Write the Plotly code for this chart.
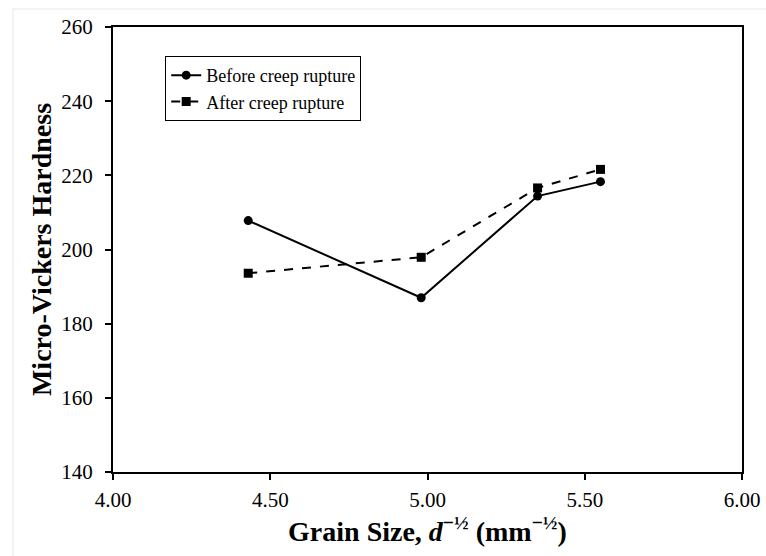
import plotly.graph_objects as go

x_vals = [4.43, 4.98, 5.35, 5.55]
before_vals = [207.8, 187.0, 214.4, 218.3]
after_vals = [193.6, 197.9, 216.6, 221.6]
x_ticks = [4.0, 4.5, 5.0, 5.5, 6.0]
x_tick_labels = ["4.00", "4.50", "5.00", "5.50", "6.00"]
y_ticks = [140, 160, 180, 200, 220, 240, 260]

FONT = "Liberation Serif, Times New Roman, serif"

fig = go.Figure()
fig.add_trace(go.Scatter(
    x=x_vals, y=before_vals, mode="lines+markers", name="Before creep rupture",
    line=dict(color="black", width=2, dash="solid"),
    marker=dict(symbol="circle", size=9, color="black"),
))
fig.add_trace(go.Scatter(
    x=x_vals, y=after_vals, mode="lines+markers", name="After creep rupture",
    line=dict(color="black", width=2, dash="dash"),
    marker=dict(symbol="square", size=9, color="black"),
))

fig.update_layout(
    width=766, height=556,
    margin=dict(l=113, r=24, t=27, b=84),
    paper_bgcolor="white", plot_bgcolor="white",
    font=dict(family=FONT, color="black", size=21),
    showlegend=True,
    legend=dict(
        x=0.083, y=0.935, xanchor="left", yanchor="top",
        bordercolor="black", borderwidth=1, bgcolor="white",
        font=dict(family=FONT, size=18, color="black"),
        tracegroupgap=4,
    ),
    xaxis=dict(
        range=[4.0, 6.0], tickvals=x_ticks, ticktext=x_tick_labels,
        showline=True, linecolor="black", linewidth=2, mirror=True,
        ticks="outside", ticklen=6, tickwidth=2, tickcolor="black",
        showgrid=False, zeroline=False, automargin=False,
        ticklabelstandoff=2,
        tickfont=dict(family=FONT, size=21, color="black"),
        title=dict(text="<b>Grain Size, <i>d</i><sup>−½</sup> (mm<sup>−½</sup>)</b>",
                   font=dict(family=FONT, size=28, color="black"), standoff=0),
    ),
    yaxis=dict(
        range=[140, 260], tickvals=y_ticks,
        showline=True, linecolor="black", linewidth=2, mirror=True,
        ticks="outside", ticklen=6, tickwidth=2, tickcolor="black",
        showgrid=False, zeroline=False, automargin=False,
        ticklabelstandoff=8,
        tickfont=dict(family=FONT, size=21, color="black"),
        title=dict(text="<b>Micro-Vickers Hardness</b>",
                   font=dict(family=FONT, size=28, color="black"), standoff=1),
    ),
)

# faint image frame (top and left edges)
fig.add_shape(type="line", xref="paper", yref="paper",
              x0=-0.159, x1=1.1, y0=1.0404, y1=1.0404,
              line=dict(color="#e6e6e6", width=1), layer="below")
fig.add_shape(type="line", xref="paper", yref="paper",
              x0=-0.159, x1=-0.159, y0=-0.2, y1=1.0404,
              line=dict(color="#e6e6e6", width=1), layer="below")

fig.write_html("out.html")
